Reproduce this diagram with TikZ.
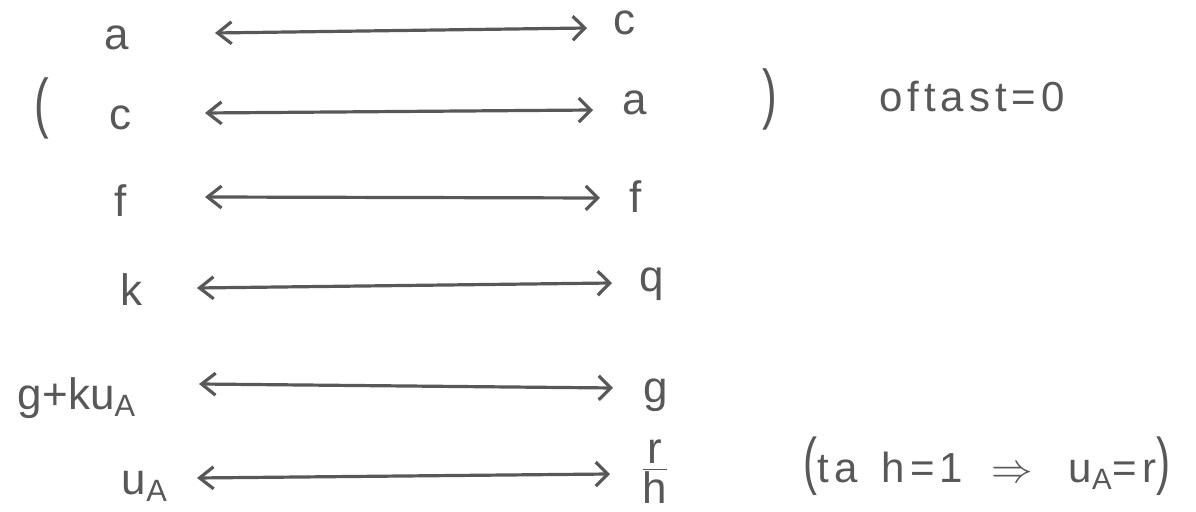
\documentclass[tikz,border=0pt]{standalone}
\usepackage{amsmath}
\usepackage{fontspec}
\setmainfont{Liberation Sans}
\usepackage{tikz}
\usetikzlibrary{arrows.meta}
\definecolor{pencil}{RGB}{88,88,88}

\tikzset{
  hand/.style={text=pencil, font=\fontsize{22}{24}\selectfont, inner sep=0pt, anchor=base},
  wide/.style={hand, font=\fontsize{21}{24}\selectfont\addfontfeature{LetterSpace=12}},
  pair/.style={draw=pencil, line width=1.6pt, line cap=round,
    {Straight Barb[length=7pt,width=11pt]}-{Straight Barb[length=6pt,width=12pt]}}
}

\begin{document}
\begin{tikzpicture}[x=0.5pt, y=-0.5pt]
  \useasboundingbox (0,0) rectangle (1196,512);
  % left column
  \node[hand] (la) at (117,50) {a};
  \node[hand] (lc) at (120,130) {c};
  \node[hand] (lf) at (121,217) {f};
  \node[hand] (lk) at (131,306) {k};
  \node[hand] (lg) at (77,410) {g+ku\textsubscript{A}};
  \node[hand] (lu) at (145,495) {u\textsubscript{A}};
  % right column
  \node[hand] (rc) at (624,35) {c};
  \node[hand] (ra) at (635,115) {a};
  \node[hand] (rf) at (636,213) {f};
  \node[hand] (rq) at (652,292) {q};
  \node[hand] (rg) at (656,403) {g};
  \node[hand] (rr) at (655,480) {$\frac{\mbox{r}}{\mbox{h}}$};
  % arrows
  \draw[pair] ([shift={(98,-17)}]la.base) -- ([shift={(-37,-7)}]rc.base);
  \draw[pair] ([shift={(85,-17)}]lc.base) -- ([shift={(-42,-5)}]ra.base);
  \draw[pair] ([shift={(84,-20)}]lf.base) -- ([shift={(-36,-15)}]rf.base);
  \draw[pair] ([shift={(66,-18)}]lk.base) -- ([shift={(-40,-9)}]rq.base);
  \draw[pair] ([shift={(122,-26)}]lg.base) -- ([shift={(-43,-15)}]rg.base);
  \draw[pair] ([shift={(52,-17)}]lu.base) -- ([shift={(-45,-6)}]rr.base);
  % remarks
  \node[hand, anchor=center] (open) at (42,108) {\scalebox{1}[1.5]{(}};
  \node[hand, anchor=center] (close) at (770,99) {\scalebox{1}[1.5]{)}};
  \node[wide] (oftast) at (972,112) {oftast=0};
  \node[wide] (note) at (987,483) {\scalebox{1}[1.5]{(}ta\hspace{12pt}h=1\hspace{14pt}$\Rightarrow$\hspace{18pt}u\textsubscript{A}=r\scalebox{1}[1.5]{)}};
\end{tikzpicture}
\end{document}
